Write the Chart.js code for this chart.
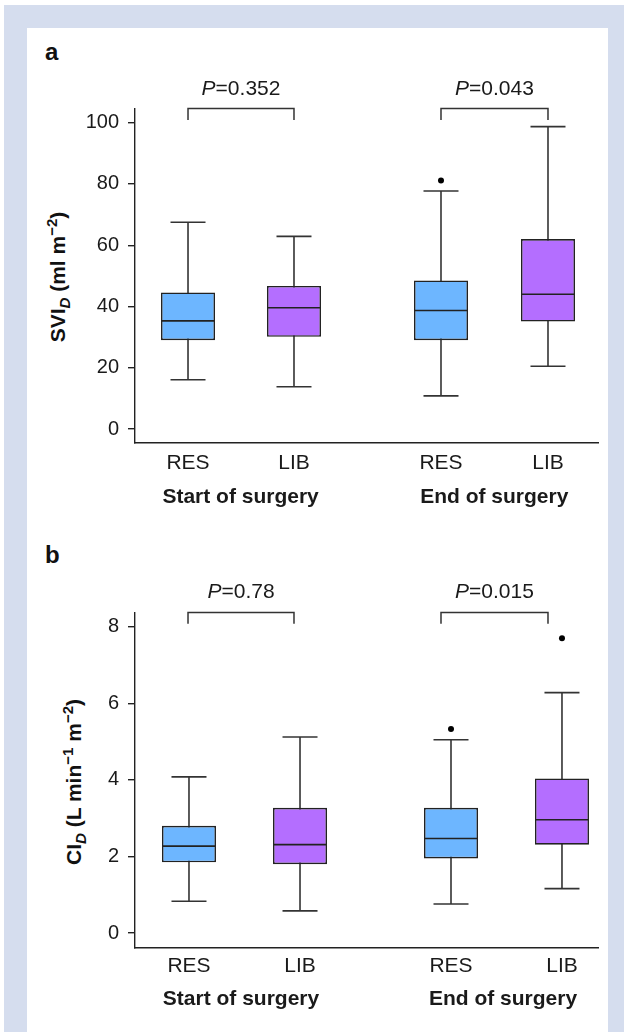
<!DOCTYPE html>
<html>
<head>
<meta charset="utf-8">
<script src="https://cdn.jsdelivr.net/npm/chart.js@4.4.1/dist/chart.umd.min.js"></script>
<style>
  html, body { margin: 0; padding: 0; background: #fff; }
  body { width: 624px; height: 1032px; position: relative; overflow: hidden; font-family: 'Liberation Sans', Arial, sans-serif; color: #111; }
  #frame { position: absolute; left: 4px; top: 5px; width: 620px; height: 1027px; background: #d5ddee; }
  #sheet { position: absolute; left: 27px; top: 28px; width: 581px; height: 1004px; background: #fff; }
  canvas { position: absolute; left: 27px; }
  .letter { position: absolute; left: 45px; font-weight: bold; font-size: 24px; line-height: 1; }
  .ytitle { position: absolute; font-weight: bold; font-size: 21px; white-space: nowrap; line-height: 1; transform: translate(-50%, -50%) rotate(-90deg); }
  .ytitle sub, .ytitle sup { font-size: 15px; line-height: 0; }
</style>
</head>
<body>
<div id="frame"></div>
<div id="sheet"></div>

<div class="letter" style="top:40px;">a</div>
<div class="letter" style="top:543px;">b</div>
<div class="ytitle" style="left:57px; top:277px;">SVI<sub><i>D</i></sub> (ml m<sup>−2</sup>)</div>
<div class="ytitle" style="left:73px; top:782px;">CI<sub><i>D</i></sub> (L min<sup>−1</sup> m<sup>−2</sup>)</div>

<canvas id="chartA" width="581" height="504" style="top:28px;"></canvas>
<canvas id="chartB" width="581" height="500" style="top:532px;"></canvas>

<script>
// categories
var arms = ['RES', 'LIB', 'RES', 'LIB'];
var groups = ['Start of surgery', 'End of surgery'];

// panel a - SVI_D (ml m-2)
var sviTicks = [0, 20, 40, 60, 80, 100];
var sviLow = [16.1, 13.8, 10.8, 20.5];
var sviQ1 = [29.0, 30.1, 29.0, 35.1];
var sviMed = [35.3, 39.6, 38.7, 44.0];
var sviQ3 = [44.6, 46.7, 48.5, 62.0];
var sviHigh = [67.5, 62.9, 77.7, 98.7];
var sviOutliers = [null, null, 81.1, null];
var sviP = ['0.352', '0.043'];

// panel b - CI_D (L min-1 m-2)
var ciTicks = [0, 2, 4, 6, 8];
var ciLow = [0.83, 0.58, 0.76, 1.16];
var ciQ1 = [1.85, 1.80, 1.95, 2.31];
var ciMed = [2.27, 2.31, 2.47, 2.96];
var ciQ3 = [2.80, 3.27, 3.27, 4.04];
var ciHigh = [4.08, 5.12, 5.05, 6.28];
var ciOutliers = [null, null, 5.33, 7.70];
var ciP = ['0.78', '0.015'];

// layout of each panel (x in axis units 0..10)
var layoutA = {
    xPos: [1.145, 3.434, 6.609, 8.92], groupAt: [2.28, 7.76],
    brackets: [[1.145, 3.434], [6.609, 8.92]], bracketTop: 104.6, bracketLeg: 100.9,
    yMin: -4.57, yMax: 104.47, axisH: 89, tickPad: 8, groupBase: 60, pGap: 14
};
var layoutB = {
    xPos: [1.166, 3.564, 6.825, 9.222], groupAt: [2.289, 7.948],
    brackets: [[1.145, 3.434], [6.609, 8.92]], bracketTop: 8.37, bracketLeg: 8.08,
    yMin: -0.39, yMax: 8.36, axisH: 84, tickPad: 6, groupBase: 57, pGap: 15
};

var FONT = "'Liberation Sans', Arial, sans-serif";
var INK = '#1a1a1a';
Chart.defaults.font.family = FONT;
Chart.defaults.color = INK;

var annotations = {
    id: 'annotations',
    afterDraw(chart, args, o) {
        var ctx = chart.ctx, xs = chart.scales.x, ys = chart.scales.y;
        ctx.save();
        o.brackets.forEach((br, i) => {
            var x1 = xs.getPixelForValue(br[0]), x2 = xs.getPixelForValue(br[1]);
            var yt = ys.getPixelForValue(o.bracketTop), yl = ys.getPixelForValue(o.bracketLeg);
            ctx.strokeStyle = '#333';
            ctx.lineWidth = 1.5;
            ctx.beginPath();
            ctx.moveTo(x1, yl); ctx.lineTo(x1, yt); ctx.lineTo(x2, yt); ctx.lineTo(x2, yl);
            ctx.stroke();

            // P value, italic P
            var cx = (x1 + x2) / 2;
            var rest = '=' + o.pvals[i];
            ctx.font = 'italic 21px ' + FONT;
            var w1 = ctx.measureText('P').width;
            ctx.font = '21px ' + FONT;
            var w2 = ctx.measureText(rest).width;
            var sx = cx - (w1 + w2) / 2;
            ctx.fillStyle = INK;
            ctx.textAlign = 'left';
            ctx.textBaseline = 'alphabetic';
            ctx.font = 'italic 21px ' + FONT;
            ctx.fillText('P', sx, yt - o.pGap);
            ctx.font = '21px ' + FONT;
            ctx.fillText(rest, sx + w1, yt - o.pGap);

            // group label under the axis
            ctx.font = 'bold 21px ' + FONT;
            ctx.textAlign = 'center';
            ctx.fillText(groups[i], xs.getPixelForValue(o.groupAt[i]), xs.top + o.groupBase);
        });
        ctx.restore();
    }
};

function boxDatasets(pos, lo, q1, med, q3, hi, out) {
    var fills = arms.map(a => a === 'RES' ? '#6db6ff' : '#b46eff');
    var caps = [];
    pos.forEach((p, i) => { caps.push({ x: p, y: lo[i] }); caps.push({ x: p, y: hi[i] }); });
    var dots = [];
    pos.forEach((p, i) => { if (out[i] !== null) dots.push({ x: p, y: out[i] }); });
    return [
        // whisker stems
        { type: 'bar', order: 4, data: pos.map((p, i) => ({ x: p, y: [lo[i], hi[i]] })),
          backgroundColor: '#333', borderWidth: 0, barThickness: 1.6, grouped: false, inflateAmount: 0 },
        // boxes
        { type: 'bar', order: 3, data: pos.map((p, i) => ({ x: p, y: [q1[i], q3[i]] })),
          backgroundColor: fills, borderColor: '#222', borderWidth: 1.6, borderSkipped: false,
          barThickness: 54, grouped: false, inflateAmount: 0 },
        // whisker caps
        { type: 'scatter', order: 2, data: caps, pointStyle: 'line', pointRadius: 17.5,
          pointBorderColor: '#333', pointBorderWidth: 1.6, pointHoverRadius: 17.5 },
        // medians
        { type: 'scatter', order: 1, data: pos.map((p, i) => ({ x: p, y: med[i] })), pointStyle: 'line',
          pointRadius: 26.4, pointBorderColor: '#222', pointBorderWidth: 1.6, pointHoverRadius: 26.4 },
        // outliers
        { type: 'scatter', order: 0, data: dots, pointStyle: 'circle', pointRadius: 3,
          pointBackgroundColor: '#000', pointBorderWidth: 0, pointHoverRadius: 3 }
    ];
}

function makePanel(id, lay, ticks, series, pvals) {
    var ctx = document.getElementById(id).getContext('2d');
    return new Chart(ctx, {
        type: 'bar',
        data: { datasets: boxDatasets(lay.xPos, series[0], series[1], series[2], series[3], series[4], series[5]) },
        options: {
            responsive: false,
            animation: false,
            events: [],
            devicePixelRatio: 1,
            layout: { autoPadding: false, padding: { top: 81, right: 10, left: 0, bottom: 0 } },
            plugins: {
                legend: { display: false },
                tooltip: { enabled: false },
                annotations: {
                    brackets: lay.brackets, bracketTop: lay.bracketTop, bracketLeg: lay.bracketLeg,
                    groupAt: lay.groupAt, groupBase: lay.groupBase, pGap: lay.pGap, pvals: pvals
                }
            },
            scales: {
                x: {
                    type: 'linear', min: 0, max: 10, offset: false,
                    afterBuildTicks: s => { s.ticks = lay.xPos.map(v => ({ value: v })); },
                    afterFit: s => { s.height = lay.axisH; s.paddingLeft = 0; s.paddingRight = 0; },
                    grid: { display: false, drawTicks: false, offset: false },
                    border: { display: true, color: '#222', width: 1.4 },
                    ticks: {
                        padding: lay.tickPad, autoSkip: false, maxRotation: 0, minRotation: 0,
                        color: INK, font: { size: 21 },
                        callback: (v, i) => arms[i]
                    }
                },
                y: {
                    min: lay.yMin, max: lay.yMax,
                    afterBuildTicks: s => { s.ticks = ticks.map(v => ({ value: v })); },
                    afterFit: s => { s.width = 108; s.paddingTop = 0; s.paddingBottom = 0; },
                    grid: { display: true, drawOnChartArea: false, drawTicks: true, tickLength: 7, color: '#222', lineWidth: 1.4 },
                    border: { display: true, color: '#222', width: 1.4 },
                    ticks: { padding: 9, color: INK, font: { size: 20 } }
                }
            }
        },
        plugins: [annotations]
    });
}

makePanel('chartA', layoutA, sviTicks, [sviLow, sviQ1, sviMed, sviQ3, sviHigh, sviOutliers], sviP);
makePanel('chartB', layoutB, ciTicks, [ciLow, ciQ1, ciMed, ciQ3, ciHigh, ciOutliers], ciP);
</script>
</body>
</html>
